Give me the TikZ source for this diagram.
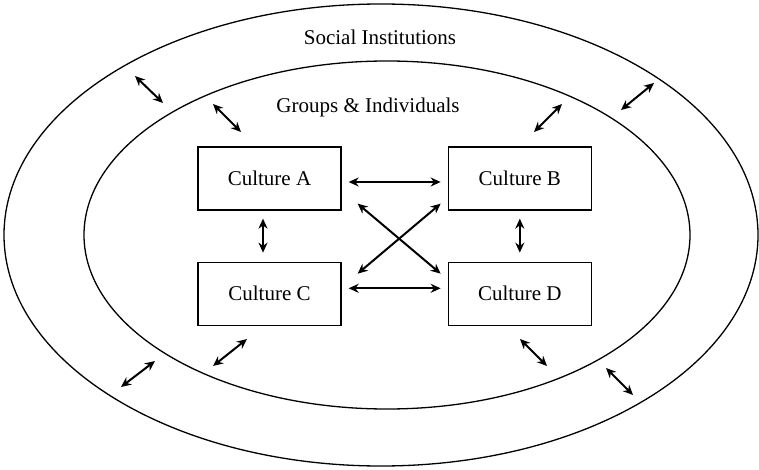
\documentclass[tikz,border=0pt]{standalone}
\usepackage{fontspec}
\setmainfont{Liberation Serif}
\usetikzlibrary{shapes.geometric, positioning, arrows.meta}

\begin{document}
\begin{tikzpicture}[
    x=0.5pt, y=-0.5pt,
    every node/.style={font=\fontsize{10.5}{12.6}\selectfont},
    culture/.style={rectangle, draw, line width=0.65pt, minimum width=71.5pt, minimum height=31.5pt, inner sep=0pt},
    ring/.style={ellipse, draw, line width=0.65pt, inner sep=0pt},
    link/.style={line width=1pt, {Stealth[length=5pt,width=4.5pt]}-{Stealth[length=5pt,width=4.5pt]}}
]
    \useasboundingbox (0,0) rectangle (759,470);
    % Rings
    \node[ring, minimum width=377pt, minimum height=231pt] (inst) at (381,235) {};
    \node[ring, minimum width=303pt, minimum height=174pt] (grp) at (387,235) {};
    \node (instlabel) at (380,37) {Social Institutions};
    \node (grplabel) at (368,107) {Groups \& Individuals};

    % Cultures
    \node[culture] (A) at (269.5,178.5) {Culture A};
    \node[culture, right=53pt of A] (B) {Culture B};
    \node[culture, below=25.5pt of A] (C) {Culture C};
    \node[culture, right=53pt of C] (D) {Culture D};

    % Links between cultures
    \draw[link, shorten <=3.5pt, shorten >=3.5pt] ([shift={(0,3.5)}]A.east) -- ([shift={(0,3.5)}]B.west);
    \draw[link, shorten <=3.5pt, shorten >=3.5pt] ([shift={(0,-5.5)}]C.east) -- ([shift={(0,-5.5)}]D.west);
    \draw[link, shorten <=4pt, shorten >=4.5pt] ([shift={(-6.5,0)}]A.south) -- ([shift={(-6.5,0)}]C.north);
    \draw[link, shorten <=4pt, shorten >=4.5pt] (B.south) -- (D.north);
    \draw[link] ([shift={(16,-7)}]A.south east) -- ([shift={(-7,12)}]D.north west);
    \draw[link] ([shift={(-7,-7)}]B.south west) -- ([shift={(16,12)}]C.north east);

    % Links across the rings
    \foreach \ax/\ay/\bx/\by in {135/76/163/103, 213/104/241/132, 534/132/562/104, 621/110/654/83,
                                 121/387/155/361, 213/366/247/339, 520/339/547/366, 606/368/633/395}
        \draw[link] (\ax,\ay) -- (\bx,\by);
\end{tikzpicture}
\end{document}
